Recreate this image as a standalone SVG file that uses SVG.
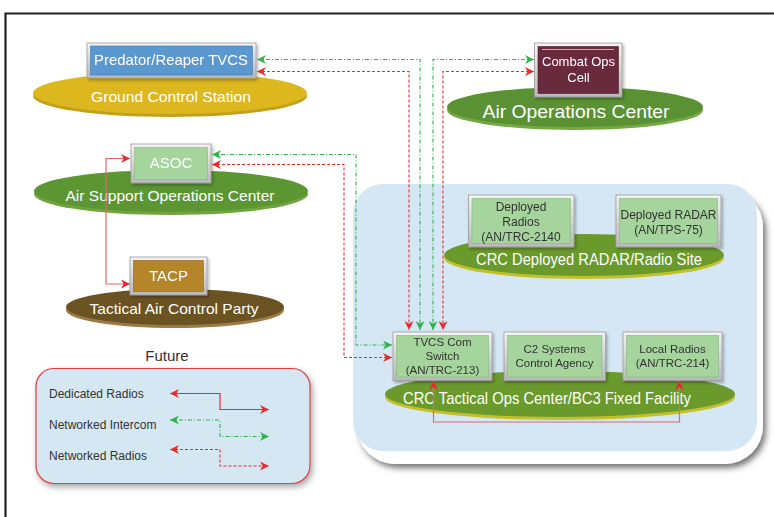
<svg xmlns="http://www.w3.org/2000/svg" width="774" height="517" viewBox="0 0 774 517">
<defs>
<style>
.lbl{font-family:"Liberation Sans",Arial,sans-serif;fill:#fff;text-anchor:middle}
.dk{font-family:"Liberation Sans",Arial,sans-serif;fill:#333;text-anchor:middle}
.lg{font-family:"Liberation Sans",Arial,sans-serif;fill:#333;font-size:12px}
.frame{fill:url(#bev);stroke:#9c9c9c;stroke-width:0.8}
.gbox{fill:#A5D49D;stroke:#86b67e;stroke-width:0.6}
.grn{fill:none;stroke:#2DB34A;stroke-width:1.1;stroke-dasharray:4 2 1 2}
.red{fill:none;stroke:#EE2B2B;stroke-width:1.1;stroke-dasharray:3 2}
.sol{fill:none;stroke:#F06262;stroke-width:1.2}
</style>
<linearGradient id="bev" x1="0" y1="0" x2="0" y2="1">
<stop offset="0" stop-color="#f4f4f4"/><stop offset="1" stop-color="#b8b8b8"/>
</linearGradient>
<filter id="sh" x="-10%" y="-10%" width="130%" height="140%">
<feDropShadow dx="1.5" dy="2" stdDeviation="1.5" flood-color="#000" flood-opacity="0.3"/>
</filter>
<filter id="sh2" x="-10%" y="-10%" width="130%" height="130%">
<feDropShadow dx="2" dy="3" stdDeviation="3" flood-color="#000" flood-opacity="0.35"/>
</filter>
<filter id="sh3" x="-10%" y="-10%" width="130%" height="130%">
<feDropShadow dx="3" dy="4" stdDeviation="3" flood-color="#000" flood-opacity="0.55"/>
</filter>
<marker id="ag" viewBox="0 0 10 10" refX="10" refY="5" markerWidth="9" markerHeight="9" markerUnits="userSpaceOnUse" orient="auto-start-reverse"><path d="M0,0 L10,5 L0,10 L3,5 Z" fill="#2DB34A"/></marker>
<marker id="ar" viewBox="0 0 10 10" refX="10" refY="5" markerWidth="9" markerHeight="9" markerUnits="userSpaceOnUse" orient="auto-start-reverse"><path d="M0,0 L10,5 L0,10 L3,5 Z" fill="#E82A2A"/></marker>
</defs>
<rect width="774" height="517" fill="#fff"/>
<path d="M5.5,517 V13.5 H774" fill="none" stroke="#222" stroke-width="2.2"/>

<g id="crc-panel">
<rect x="357" y="189" width="406" height="275" rx="38" fill="#fff" filter="url(#sh3)"/>
<rect x="353" y="184" width="404" height="267" rx="30" fill="#D5E7F5"/>
</g>

<g id="ground-control-station">
<ellipse cx="170" cy="96" rx="137" ry="21" fill="#C4A01A"/>
<ellipse cx="170" cy="93" rx="137" ry="21" fill="#DCB81E"/>
<text class="lbl" x="171" y="102" font-size="15" textLength="160" lengthAdjust="spacingAndGlyphs">Ground Control Station</text>
<g id="predator-reaper-tvcs" filter="url(#sh)">
<rect class="frame" x="87" y="43" width="169" height="35"/>
<rect x="90.5" y="46" width="162" height="29" fill="#5B98D0" stroke="#3f78ad" stroke-width="0.6"/>
<text class="lbl" x="171" y="65" font-size="14.5" textLength="154" lengthAdjust="spacingAndGlyphs">Predator/Reaper TVCS</text>
</g>
</g>

<g id="air-operations-center">
<ellipse cx="575" cy="110" rx="128" ry="20" fill="#74A845"/>
<ellipse cx="575" cy="107" rx="128" ry="20" fill="#5A9233"/>
<text class="lbl" x="576" y="118" font-size="19" textLength="187" lengthAdjust="spacingAndGlyphs">Air Operations Center</text>
<g id="combat-ops-cell" filter="url(#sh)">
<rect class="frame" x="534.5" y="43" width="87.5" height="54"/>
<rect x="538" y="46.5" width="80.5" height="47" fill="#6B2A3C" stroke="#4d1c2a" stroke-width="0.6"/>
<line x1="542" y1="49.5" x2="614" y2="49.5" stroke="#c9a9b3" stroke-width="1.2"/>
<text class="lbl" x="578.5" y="66" font-size="13">Combat Ops</text>
<text class="lbl" x="578.5" y="82" font-size="13">Cell</text>
</g>
</g>

<g id="air-support-operations-center">
<ellipse cx="171" cy="194" rx="137" ry="21" fill="#6FA53C"/>
<ellipse cx="171" cy="191" rx="137" ry="21" fill="#5B9633"/>
<text class="lbl" x="170" y="201" font-size="15" textLength="209" lengthAdjust="spacingAndGlyphs">Air Support Operations Center</text>
<g id="asoc" filter="url(#sh)">
<rect class="frame" x="131" y="144" width="80" height="39"/>
<rect x="134.5" y="147.5" width="73" height="32" fill="#A5D49D" stroke="#86b67e" stroke-width="0.6"/>
<text class="lbl" x="171" y="168" font-size="15">ASOC</text>
</g>
</g>

<g id="tactical-air-control-party">
<ellipse cx="175" cy="310" rx="109" ry="18" fill="#9C7A45"/>
<ellipse cx="175" cy="307" rx="109" ry="18" fill="#6B5222"/>
<text class="lbl" x="174" y="314" font-size="15" textLength="169" lengthAdjust="spacingAndGlyphs">Tactical Air Control Party</text>
<g id="tacp" filter="url(#sh)">
<rect class="frame" x="130" y="257" width="77" height="38"/>
<rect x="133.5" y="260.5" width="70" height="31" fill="#B5852B" stroke="#8d6520" stroke-width="0.6"/>
<text class="lbl" x="168.5" y="281" font-size="15">TACP</text>
</g>
</g>

<g id="crc-deployed-site">
<ellipse cx="584" cy="258" rx="140" ry="21" fill="#C3C02A"/>
<ellipse cx="584" cy="255" rx="140" ry="21" fill="#6A9A2C"/>
<text class="lbl" x="589" y="265" font-size="17" textLength="226" lengthAdjust="spacingAndGlyphs">CRC Deployed RADAR/Radio Site</text>
<g id="deployed-radios" filter="url(#sh)">
<rect class="frame" x="468.5" y="195" width="105.5" height="52"/>
<rect class="gbox" x="472" y="198.5" width="98.5" height="45"/>
<text class="dk" x="521" y="211" font-size="12">Deployed</text>
<text class="dk" x="521" y="226" font-size="12">Radios</text>
<text class="dk" x="521" y="240.5" font-size="12">(AN/TRC-2140</text>
</g>
<g id="deployed-radar" filter="url(#sh)">
<rect class="frame" x="616" y="195" width="105" height="52"/>
<rect class="gbox" x="619.5" y="198.5" width="98" height="45"/>
<text class="dk" x="668.5" y="218.5" font-size="12">Deployed RADAR</text>
<text class="dk" x="668.5" y="233.5" font-size="12">(AN/TPS-75)</text>
</g>
</g>

<g id="crc-tactical-ops-center">
<ellipse cx="560" cy="397" rx="175" ry="23" fill="#C3C02A"/>
<ellipse cx="560" cy="394" rx="175" ry="23" fill="#6A9A2C"/>
<text class="lbl" x="547" y="404" font-size="17" textLength="288" lengthAdjust="spacingAndGlyphs">CRC Tactical Ops Center/BC3 Fixed Facility</text>
<g id="tvcs-com-switch" filter="url(#sh)">
<rect class="frame" x="393" y="332" width="99" height="48.5"/>
<rect class="gbox" x="396.5" y="335.5" width="92" height="41.5"/>
<text class="dk" x="442.5" y="346" font-size="11.5">TVCS Com</text>
<text class="dk" x="442.5" y="360" font-size="11.5">Switch</text>
<text class="dk" x="442.5" y="374" font-size="11.5">(AN/TRC-213)</text>
</g>
<g id="c2-systems-control-agency" filter="url(#sh)">
<rect class="frame" x="504" y="332" width="101.5" height="48.5"/>
<rect class="gbox" x="507.5" y="335.5" width="94.5" height="41.5"/>
<text class="dk" x="554.5" y="353" font-size="11.5">C2 Systems</text>
<text class="dk" x="554.5" y="367" font-size="11.5">Control Agency</text>
</g>
<g id="local-radios" filter="url(#sh)">
<rect class="frame" x="623" y="332" width="99" height="48.5"/>
<rect class="gbox" x="626.5" y="335.5" width="92" height="41.5"/>
<text class="dk" x="672.5" y="352.5" font-size="11.5">Local Radios</text>
<text class="dk" x="672.5" y="367" font-size="11.5">(AN/TRC-214)</text>
</g>
</g>

<g id="connectors">
<path class="grn" d="M257,59.5 H420 V330" marker-start="url(#ag)" marker-end="url(#ag)"/>
<path class="red" d="M257,71.5 H409 V330" marker-start="url(#ar)" marker-end="url(#ar)"/>
<path class="grn" d="M534,59.5 H433 V330" marker-start="url(#ag)" marker-end="url(#ag)"/>
<path class="red" d="M534,71.5 H443 V330" marker-start="url(#ar)" marker-end="url(#ar)"/>
<path class="grn" d="M212,154.5 H356 V345 H392" marker-start="url(#ag)" marker-end="url(#ag)"/>
<path class="red" d="M212,164.5 H344 V357.5 H392" marker-start="url(#ar)" marker-end="url(#ar)"/>
<path class="sol" d="M130,158.5 H106 V284 H130" marker-start="url(#ar)" marker-end="url(#ar)"/>
<path class="sol" d="M433.5,381 V422 H679.5 V381" marker-start="url(#ar)" marker-end="url(#ar)"/>
</g>

<g id="legend">
<text class="dk" x="167" y="361" font-size="15">Future</text>
<rect x="36" y="368.5" width="274" height="115" rx="18" fill="#D6E7F4" stroke="#E0403F" stroke-width="1.2" filter="url(#sh2)"/>
<text class="lg" x="49" y="398">Dedicated Radios</text>
<text class="lg" x="49" y="429">Networked Intercom</text>
<text class="lg" x="49" y="460">Networked Radios</text>
<path class="sol" style="stroke:#E82A2A" d="M170,393.5 H220 V409.5 H269" marker-start="url(#ar)" marker-end="url(#ar)"/>
<path class="grn" d="M170,420 H220 V436.5 H269" marker-start="url(#ag)" marker-end="url(#ag)"/>
<path class="red" d="M170,449.5 H220 V466 H269" marker-start="url(#ar)" marker-end="url(#ar)"/>
</g>
</svg>
